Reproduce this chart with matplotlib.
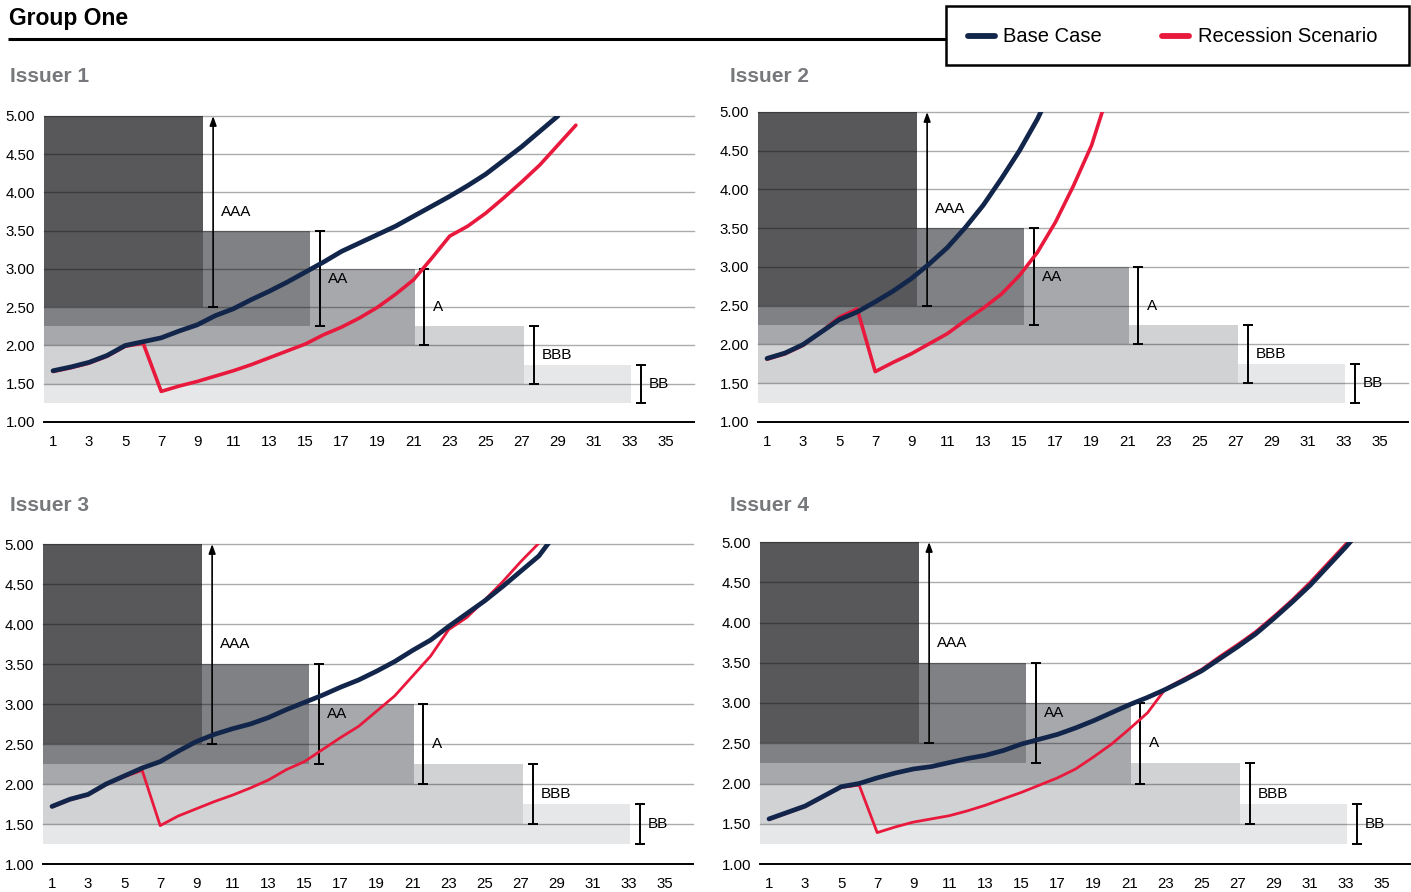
import matplotlib
matplotlib.use('Agg')
import matplotlib.pyplot as plt
import numpy as np

plt.rcParams['font.family'] = ['Liberation Sans', 'DejaVu Sans']

W, H = 1411, 892

#--------------------------------------------------------------------
# data
#--------------------------------------------------------------------

# rating bands, the same for the four issuers
ratings = ['AAA', 'AA', 'A', 'BBB', 'BB']
band_low = [2.50, 2.25, 2.00, 1.50, 1.25]
band_high = [5.00, 3.50, 3.00, 2.25, 1.75]
band_end = [9.33, 15.25, 21.05, 27.1, 33.05]
band_start = 0.5
band_colors = ['#58585b', '#808184', '#a7a8ab', '#d1d2d4', '#e6e7e8']

x_ticks = list(range(1, 36, 2))
y_ticks = [1.00, 1.50, 2.00, 2.50, 3.00, 3.50, 4.00, 4.50, 5.00]

# Issuer 1
base_1 = [1.67, 1.72, 1.78, 1.87, 2.00, 2.05, 2.10, 2.19, 2.27, 2.39,
          2.48, 2.60, 2.71, 2.83, 2.96, 3.09, 3.23, 3.34, 3.45, 3.56,
          3.69, 3.82, 3.95, 4.09, 4.24, 4.42, 4.60, 4.80, 5.00]
rec_1 = [1.66, 1.71, 1.77, 1.86, 1.99, 2.03, 1.40, 1.47, 1.53, 1.60,
         1.67, 1.75, 1.84, 1.93, 2.02, 2.14, 2.24, 2.36, 2.50, 2.67,
         2.86, 3.14, 3.43, 3.56, 3.73, 3.93, 4.14, 4.36, 4.62, 4.88]

# Issuer 2
base_2 = [1.82, 1.89, 2.00, 2.16, 2.32, 2.42, 2.55, 2.69, 2.85, 3.04,
          3.25, 3.51, 3.80, 4.14, 4.50, 4.91, 5.40]
rec_2 = [1.81, 1.88, 1.99, 2.16, 2.35, 2.46, 1.65, 1.77, 1.88, 2.01,
         2.14, 2.31, 2.47, 2.65, 2.89, 3.19, 3.58, 4.05, 4.57, 5.30]

# Issuer 3
base_3 = [1.72, 1.81, 1.87, 2.00, 2.10, 2.20, 2.28, 2.41, 2.53, 2.62,
          2.69, 2.75, 2.83, 2.93, 3.02, 3.11, 3.21, 3.30, 3.41, 3.53,
          3.67, 3.80, 3.97, 4.13, 4.29, 4.47, 4.66, 4.85, 5.15]
rec_3 = [1.71, 1.80, 1.86, 1.99, 2.09, 2.17, 1.48, 1.60, 1.69, 1.78,
         1.86, 1.95, 2.05, 2.18, 2.28, 2.43, 2.58, 2.72, 2.91, 3.10,
         3.35, 3.60, 3.93, 4.08, 4.30, 4.53, 4.78, 5.01]

# Issuer 4
base_4 = [1.56, 1.64, 1.72, 1.84, 1.96, 2.00, 2.07, 2.13, 2.18, 2.21,
          2.26, 2.31, 2.35, 2.41, 2.49, 2.55, 2.61, 2.69, 2.78, 2.88,
          2.98, 3.07, 3.17, 3.28, 3.40, 3.55, 3.70, 3.86, 4.05, 4.25,
          4.46, 4.70, 4.94, 5.20]
rec_4 = [1.55, 1.63, 1.71, 1.83, 1.95, 1.98, 1.39, 1.46, 1.52, 1.56,
         1.60, 1.66, 1.73, 1.81, 1.89, 1.98, 2.07, 2.18, 2.33, 2.49,
         2.68, 2.88, 3.18, 3.30, 3.42, 3.58, 3.73, 3.89, 4.08, 4.28,
         4.50, 4.74, 4.98, 5.24]

NAVY = '#12264b'
RED = '#e8193c'

#--------------------------------------------------------------------
# one panel
#--------------------------------------------------------------------

def Panel(fig, box, title, title_x, title_y, base, rec, rec_lw):
    left, right, top, bottom = box
    ax = fig.add_axes([left / W, 1 - bottom / H, (right - left) / W, (bottom - top) / H])

    # bands, lightest first so the darker ones sit on top
    for i in range(len(ratings) - 1, -1, -1):
        ax.bar(band_start, band_high[i] - band_low[i], width=band_end[i] - band_start,
               bottom=band_low[i], align='edge', color=band_colors[i],
               linewidth=0, zorder=1 + (len(ratings) - i) * 0.1)

    for yv in y_ticks[1:]:
        ax.axhline(yv, color='black', alpha=0.33, lw=1.0, zorder=2, clip_on=False)

    # rating ranges
    for i, name in enumerate(ratings):
        bx = band_end[i] + 0.55
        mid = (band_low[i] + band_high[i]) / 2
        if i == 0:
            ax.annotate('', xy=(bx, band_high[i]), xytext=(bx, band_low[i]),
                        arrowprops=dict(arrowstyle='-|>,head_length=0.55,head_width=0.2',
                                        color='black', lw=1.2, shrinkA=0, shrinkB=0),
                        zorder=3)
            ax.plot([bx], [band_low[i]], marker='_', ms=7, mew=1.4, color='black', zorder=3)
        else:
            ax.errorbar(bx, mid, yerr=(band_high[i] - band_low[i]) / 2, fmt='none',
                        ecolor='black', elinewidth=1.4, capsize=3.4, capthick=1.4, zorder=3)
        ax.text(bx + 0.45, mid, name, fontsize=11, va='center', ha='left', zorder=3)

    xr = np.arange(1, len(rec) + 1)
    xb = np.arange(1, len(base) + 1)
    ax.plot(xr, rec, color=RED, lw=rec_lw, solid_capstyle='round',
            solid_joinstyle='round', zorder=4)
    ax.plot(xb, base, color=NAVY, lw=3.4, solid_capstyle='round',
            solid_joinstyle='round', zorder=5)

    ax.set_xlim(0.5, 36.55)
    ax.set_ylim(1.0, 5.0)
    ax.set_xticks(x_ticks)
    ax.set_yticks(y_ticks)
    ax.set_yticklabels(['%.2f' % v for v in y_ticks])
    ax.tick_params(axis='both', length=0, labelsize=10.8)
    ax.tick_params(axis='x', pad=9.5)
    ax.tick_params(axis='y', pad=6.5)
    for s in ['top', 'right', 'left']:
        ax.spines[s].set_visible(False)
    ax.spines['bottom'].set_color('black')
    ax.spines['bottom'].set_linewidth(1.4)
    ax.patch.set_visible(False)

    fig.text(title_x / W, 1 - title_y / H, title, fontsize=15, fontweight='bold',
             color='#77787b', va='baseline', ha='left')
    return ax

#--------------------------------------------------------------------

fig = plt.figure(figsize=(W / 100, H / 100), dpi=100)
fig.patch.set_facecolor('white')

Panel(fig, (44, 694, 116, 422), 'Issuer 1', 10, 82, base_1, rec_1, 2.6)
Panel(fig, (758, 1408, 112, 422), 'Issuer 2', 730, 82, base_2, rec_2, 2.6)
Panel(fig, (43, 693, 544, 864), 'Issuer 3', 10, 511, base_3, rec_3, 2.0)
Panel(fig, (760, 1410, 542, 864), 'Issuer 4', 730, 511, base_4, rec_4, 2.0)

# header: title, rule and legend box drawn in pixel coordinates
top = fig.add_axes([0, 0, 1, 1])
top.set_xlim(0, W)
top.set_ylim(H, 0)
top.axis('off')

top.text(9, 25, 'Group One', fontsize=16.5, fontweight='bold', color='black',
         va='baseline', ha='left')
top.plot([8, 946], [39, 39], color='black', lw=2.2, solid_capstyle='butt')
top.add_patch(plt.Rectangle((946, 6), 463, 59, fill=False, edgecolor='black', lw=1.8))

top.plot([968, 995], [36, 36], color=NAVY, lw=4.2, solid_capstyle='round')
top.text(1003, 36, 'Base Case', fontsize=14.5, va='center', ha='left')
top.plot([1162, 1189], [36, 36], color=RED, lw=4.2, solid_capstyle='round')
top.text(1198, 36, 'Recession Scenario', fontsize=14.5, va='center', ha='left')

fig.savefig('out.png', dpi=100)
